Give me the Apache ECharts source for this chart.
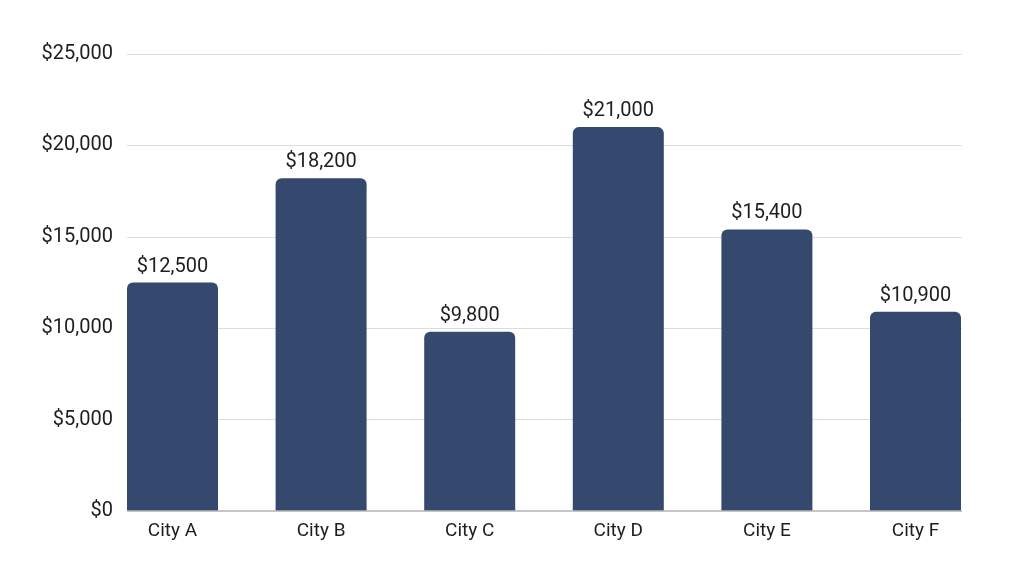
<!DOCTYPE html>
<html>
<head>
<meta charset="utf-8">
<script src="https://cdn.jsdelivr.net/npm/echarts@6/dist/echarts.min.js"></script>
<style>
html,body{margin:0;padding:0;background:#fff;}
#main{width:1024px;height:572px;}
</style>
</head>
<body>
<div id="main"></div>
<script>
const categories = ['City A', 'City B', 'City C', 'City D', 'City E', 'City F'];
const values = [12500, 18200, 9800, 21000, 15400, 10900];
const yMin = 0, yMax = 25000, yStep = 5000;

const fmt = v => '$' + v.toLocaleString('en-US');
const font = 'Roboto, "Noto Sans", sans-serif';

const chart = echarts.init(document.getElementById('main'));
chart.setOption({
  backgroundColor: '#ffffff',
  animation: false,
  grid: [
    { left: 127, right: 62, top: 54, bottom: 61 },
    { left: 98.2, right: 34.2, top: 54, bottom: 61 }
  ],
  xAxis: [
    { gridIndex: 0, type: 'value', min: 0, max: 1, show: true,
      axisLine: { show: false }, axisTick: { show: false }, axisLabel: { show: false }, splitLine: { show: false } },
    { gridIndex: 1, type: 'category', data: categories, boundaryGap: true,
      axisLine: { show: false }, axisTick: { show: false },
      axisLabel: { color: '#1e1e1e', fontSize: 19, fontFamily: font, margin: 11 } }
  ],
  yAxis: [
    { gridIndex: 0, type: 'value', min: yMin, max: yMax, interval: yStep,
      axisLine: { show: false }, axisTick: { show: false },
      axisLabel: { color: '#1e1e1e', fontSize: 20, fontFamily: font, margin: 14, formatter: fmt },
      splitLine: { show: true, lineStyle: { color: '#dcdcdc', width: 1 } } },
    { gridIndex: 1, type: 'value', min: yMin, max: yMax, interval: yStep, show: false }
  ],
  series: [
    { type: 'line', xAxisIndex: 0, yAxisIndex: 0, data: [[0, 0], [1, 0]],
      symbol: 'none', lineStyle: { color: '#b5b5b5', width: 1.5 }, silent: true, z: 5 },
    { type: 'bar', xAxisIndex: 1, yAxisIndex: 1, data: values, barWidth: 91,
      itemStyle: { color: '#35496e', borderRadius: [6, 6, 0, 0] },
      label: { show: true, position: 'top', distance: 6, color: '#1e1e1e', fontSize: 20, fontFamily: font, formatter: p => fmt(p.value) },
      z: 3 }
  ]
});
</script>
</body>
</html>
